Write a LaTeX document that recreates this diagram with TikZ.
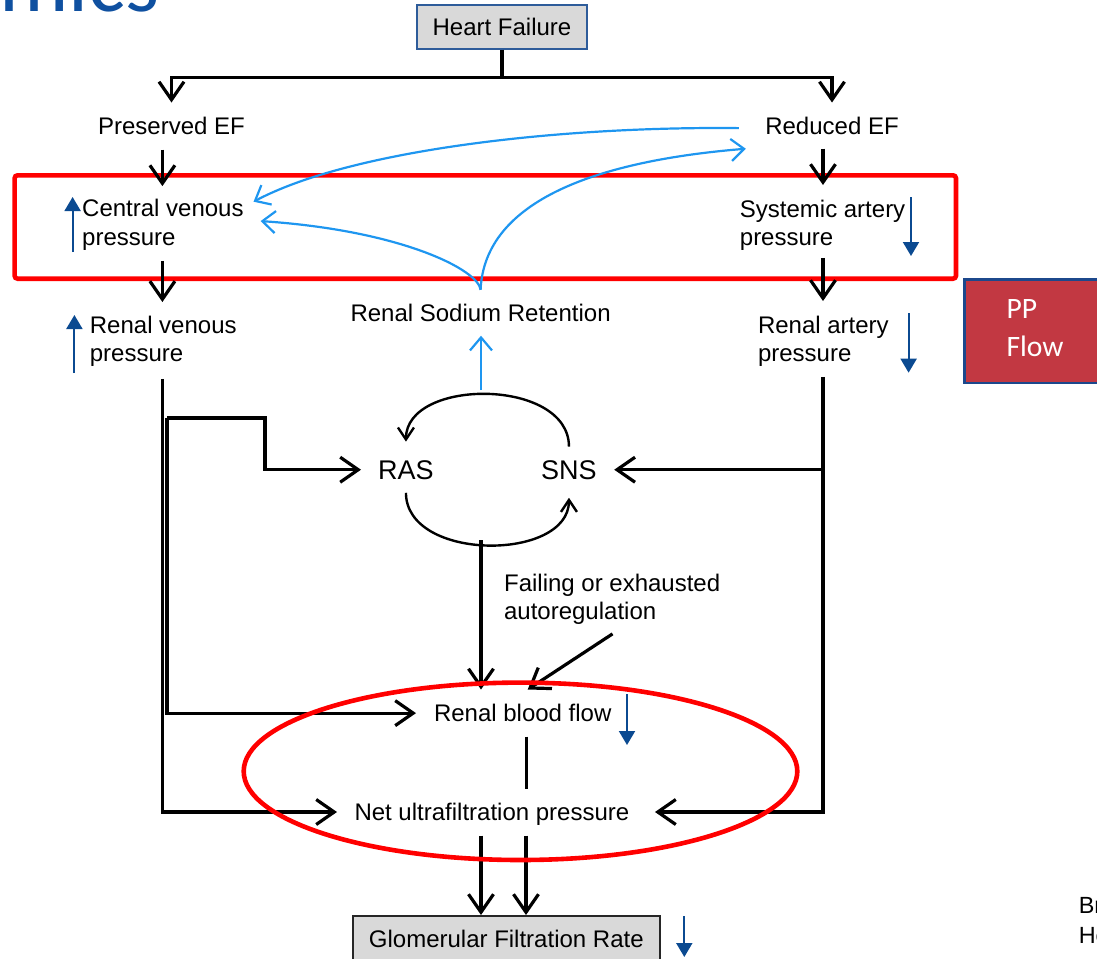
\documentclass[tikz,border=0pt]{standalone}
\usepackage{fontspec}
\setmainfont{Liberation Sans}
\newfontfamily\calfont{Carlito}
\usetikzlibrary{arrows.meta,calc}

\definecolor{boxgrey}{RGB}{217,217,217}
\definecolor{hfblue}{RGB}{46,92,154}
\definecolor{fbblue}{RGB}{30,150,240}
\definecolor{indblue}{RGB}{11,74,145}
\definecolor{ppred}{RGB}{194,56,66}
\definecolor{ppblue}{RGB}{28,72,140}
\definecolor{ttlblue}{RGB}{15,80,160}

\tikzset{every picture/.style={line width=0.5pt}}
\tikzset{
  txt/.style={inner sep=0pt, font=\fontsize{12}{14.1}\selectfont},
  bigtxt/.style={inner sep=0pt, font=\fontsize{13.5}{16}\selectfont},
  greybox/.style={fill=boxgrey, inner sep=0pt, font=\fontsize{12}{14.1}\selectfont},
  flow/.style={line width=1.6pt, -{Straight Barb[length=9pt,width=12.5pt]}},
  cyc/.style={line width=1.2pt, -{Straight Barb[length=6pt,width=8pt]}},
  fback/.style={draw=fbblue, line width=1.1pt, -{Straight Barb[length=6.5pt,width=11pt]}},
  ind/.style={draw=indblue, line width=1pt, -{Triangle[length=7pt,width=8pt]}},
  redline/.style={draw=red, line width=2.3pt}
}

\begin{document}
\begin{tikzpicture}[x=0.5pt,y=0.5pt,yscale=-1,xscale=1]
\useasboundingbox (0,0) rectangle (1097,958);

% columns and junctions
\coordinate (lcol) at (162.4,0);
\coordinate (rcol) at (823,0);
\coordinate (ccol) at (481,0);
\coordinate (mcol) at (526,0);
\coordinate (bcol) at (167,418);
\coordinate (kink) at (265,0);
\coordinate (lpt) at (481,390);
\coordinate (lpb) at (481,540);

%Red frame
\draw [redline, rounded corners=1.5pt] (14.6,175.3) rectangle (956,278.7);

% Text Node
\draw (160,11) node (ttl) [anchor=base east, inner sep=0pt, text=ttlblue, font=\calfont\fontsize{43.5}{50}\selectfont] {mics};
% Text Node
\draw (502,27) node (hf) [greybox, draw=hfblue, line width=0.8pt, minimum width=84.8pt, minimum height=22pt] {Heart Failure};
% Text Node
\draw (171.5,134) node (pef) [txt, anchor=base] {Preserved EF};
% Text Node
\draw (832,134) node (ref) [txt, anchor=base] {Reduced EF};
% Text Node
\draw (81.7,199.1) node (cvp) [txt, anchor=north west, align=left] {Central venous\\pressure};
% Text Node
\draw (739.4,199.8) node (sap) [txt, anchor=north west, align=left] {Systemic artery\\pressure};
% Text Node
\draw (89.4,315.2) node (rvp) [txt, anchor=north west, align=left] {Renal venous\\pressure};
% Text Node
\draw (350,321.7) node (rsr) [txt, anchor=base west] {Renal Sodium Retention};
% Text Node
\draw (757.5,315.8) node (rap) [txt, anchor=north west, align=left] {Renal artery\\pressure};
% Text Node
\draw (963.3,278.3) node (ppbox) [anchor=north west, draw=ppblue, fill=ppred, line width=1.2pt, minimum width=90pt, minimum height=51.7pt, inner sep=0pt] {};
% Text Node
\draw (1006,298.8) node (pptxt) [anchor=north west, inner sep=0pt, align=left, text=white, font=\calfont\fontsize{14.8}{19.2}\selectfont] {PP\\Flow};
% Text Node
\draw (377.7,479) node (ras) [bigtxt, anchor=base west] {RAS};
% Text Node
\draw (540.7,479) node (sns) [bigtxt, anchor=base west] {SNS};
% Text Node
\draw (503.6,573.2) node (fea) [txt, anchor=north west, align=left] {Failing or exhausted\\autoregulation};
% Text Node
\draw (433.5,721.7) node (rbf) [txt, anchor=base west] {Renal blood flow};
% Text Node
\draw (354,820.7) node (nup) [txt, anchor=base west, text depth=0pt] {Net ultrafiltration pressure};
% Text Node
\draw (506.3,915) node (gfr) [greybox, anchor=north, draw=black!85, line width=1pt, minimum width=153.6pt, inner xsep=0pt, inner ysep=7.1pt, text depth=4pt] {Glomerular Filtration Rate};
% Text Node
\draw (1078.3,897.2) node (cite) [inner sep=0pt, anchor=north west, align=left, font=\fontsize{11.7}{14.65}\selectfont] {Br\\He};

%Straight Lines
\draw [flow, shorten >=6.8pt] (hf.south) -- ++(0,28) -| (pef.north);
\draw [flow, shorten >=6.8pt] (hf.south) -- ++(0,28) -| (ref.north);
\draw [flow, shorten <=7.5pt, shorten >=6.5pt] (pef.south -| lcol) -- (cvp.north -| lcol);
\draw [flow, shorten <=7pt, shorten >=7.4pt] (ref.south -| rcol) -- (sap.north -| rcol);
\draw [flow, shorten <=5.1pt, shorten >=6.6pt] (cvp.south -| lcol) -- (rvp.north -| lcol);
\draw [flow, shorten <=3.3pt, shorten >=7.4pt] (sap.south -| rcol) -- (rap.north -| rcol);
\draw [flow, shorten <=6pt, shorten >=8.5pt] (rvp.south -| lcol) |- (nup.west);
\draw [flow, shorten >=8.35pt] (bcol) -| (kink |- ras.west) -- (ras.west);
\draw [flow, shorten >=8.75pt] (bcol) |- (rbf.west);
\draw [flow, shorten <=4.75pt, shorten >=12.6pt] (rap.south -| rcol) |- (nup.east);
\draw [flow, shorten >=8.5pt] (rcol |- sns.east) -- (sns.east);
\draw [flow, shorten >=7.15pt] (lpb) -- (lpb |- rbf.north);
\draw [flow] ($(fea.south)+(0.35,9.1)$) -- ($(rbf.north)+(5,-14.3)$);
\draw [line width=1.5pt, shorten <=7.15pt, shorten >=7.15pt] (rbf.south -| mcol) -- (nup.north -| mcol);
\draw [flow, shorten <=7.15pt] (nup.south -| ccol) -- (gfr.north -| ccol);
\draw [flow, shorten <=7.15pt] (nup.south -| mcol) -- (gfr.north -| mcol);

%Curve Lines
\draw [cyc, shorten <=6.5pt, shorten >=9pt] (sns.north) .. controls +(0,-82) and +(0,-82) .. (ras.north);
\draw [cyc, shorten <=6.5pt, shorten >=9pt] (ras.south) .. controls +(0,82) and +(0,82) .. (sns.south);

%Feedback Lines
\draw [fback, shorten >=6.65pt] (lpt) -- (lpt |- rsr.south);
\draw [fback] ($(rsr.north)+(0,-14)$) .. controls +(-2,-20) and +(140.4,9.3) .. ($(cvp.east)+(16.5,-3.8)$);
\draw [fback] ($(rsr.north)+(0,-14)$) .. controls +(4,-90) and +(-147,12) .. ($(ref.south west)+(-19,14)$);
\draw [fback] ($(ref.west)+(-26,2.7)$) .. controls +(-180,-2) and +(97.5,-51.7) .. ($(cvp.north east)+(9.4,2.6)$);

%Up and down marks
\draw [ind] (72.6,252) -- (72.6,197);
\draw [ind] (74.4,373) -- (74.4,315);
\draw [ind] (911,197) -- (911,256);
\draw [ind] (908.6,313.3) -- (908.6,372.7);
\draw [ind] (627,694) -- (627,745);
\draw [ind] (684.3,916) -- (684.3,957);

%Red ellipse
\draw [redline] (520.5,771.3) ellipse [x radius=276.8, y radius=88.7];
\end{tikzpicture}
\end{document}
